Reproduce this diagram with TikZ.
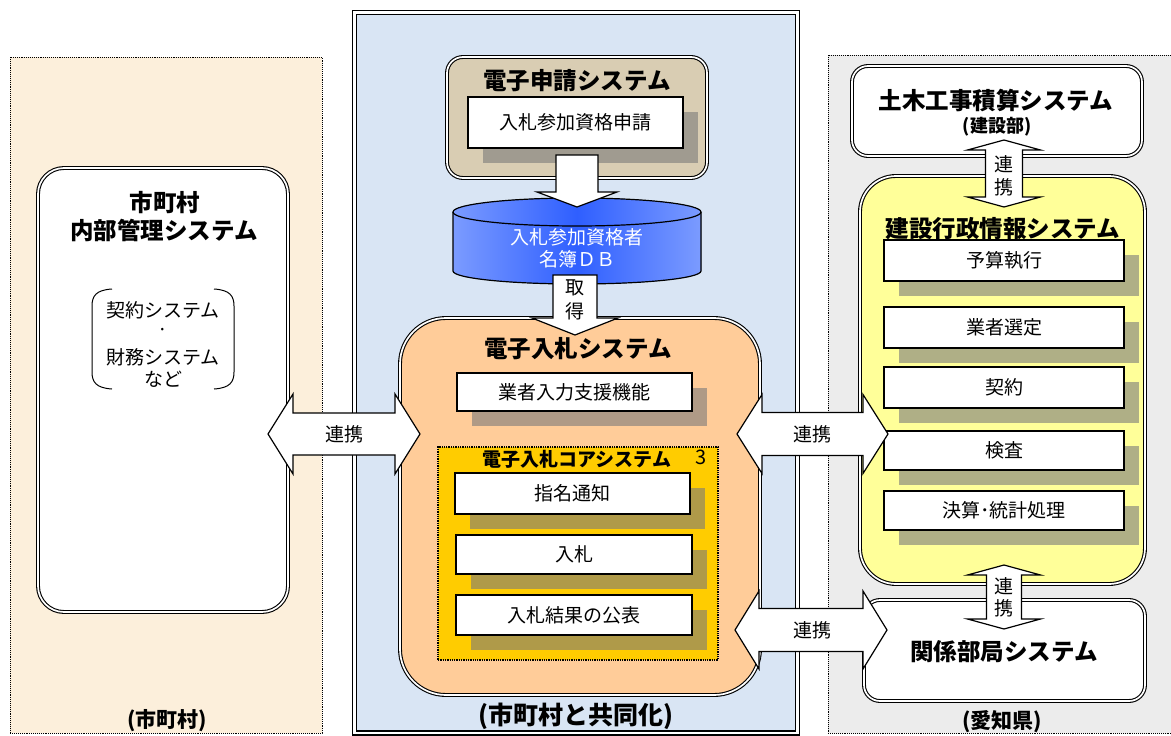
\documentclass[tikz,border=0pt]{standalone}
\usepackage{fontspec}
\setmainfont{Noto Sans CJK JP}
\usetikzlibrary{shadows}
\definecolor{leftbg}{HTML}{FCEFDB}
\definecolor{midbg}{HTML}{D9E5F4}
\definecolor{rightbg}{HTML}{ECECEC}
\definecolor{tan}{HTML}{D9CDB3}
\definecolor{peach}{HTML}{FFCC99}
\definecolor{gold}{HTML}{FFCC00}
\definecolor{lemon}{HTML}{FFFF99}
\definecolor{dbdark}{HTML}{2F5FFF}
\definecolor{dblight}{HTML}{7B9BFF}
\definecolor{shadowgray}{HTML}{7A7A7A}
\newcommand\hdarr[6]{%
 \draw[barrow] (#1,#3) -- ({#1+#6},{#3-#5}) -- ({#1+#6},{#3-#4}) -- ({#2-#6},{#3-#4}) -- ({#2-#6},{#3-#5}) -- (#2,#3) -- ({#2-#6},{#3+#5}) -- ({#2-#6},{#3+#4}) -- ({#1+#6},{#3+#4}) -- ({#1+#6},{#3+#5}) -- cycle;}
\newcommand\vdarr[6]{%
 \draw[barrow] (#1,#2) -- ({#1+#5},{#2+#6}) -- ({#1+#4},{#2+#6}) -- ({#1+#4},{#3-#6}) -- ({#1+#5},{#3-#6}) -- (#1,#3) -- ({#1-#5},{#3-#6}) -- ({#1-#4},{#3-#6}) -- ({#1-#4},{#2+#6}) -- ({#1-#5},{#2+#6}) -- cycle;}
\newcommand\downarr[6]{%
 \draw[barrow] ({#1-#4},#2) -- ({#1+#4},#2) -- ({#1+#4},{#3-#6}) -- ({#1+#5},{#3-#6}) -- (#1,#3) -- ({#1-#5},{#3-#6}) -- ({#1-#4},{#3-#6}) -- cycle;}
\begin{document}
\begin{tikzpicture}[x=1pt,y=-1pt,
  dbl/.style={draw=black, line width=1.1pt, double=white, double distance=1.7pt},
  itembox/.style={draw=black, line width=1.2pt, fill=white, font=\fontsize{19}{22}\selectfont,
     general shadow={fill=shadowgray, opacity=.6, shadow xshift=15pt, shadow yshift=-15pt}},
  tnorm/.style={font=\fontsize{19}{22}\selectfont, inner sep=0pt},
  tbold/.style={font=\fontsize{23.5}{28}\selectfont\bfseries, inner sep=0pt},
  tlab/.style={font=\fontsize{21}{24}\selectfont\bfseries, inner sep=0pt},
  barrow/.style={draw=black, line width=1.2pt, fill=white, line join=miter},
  panel/.style={draw=black, line width=0.9pt, densely dotted}]
\useasboundingbox (0,0) rectangle (1171,736);
\fill[white] (0,0) rectangle (1171,736);
% panels
\draw[panel, fill=leftbg] (10,57) rectangle (322,733);
\draw[panel, fill=rightbg] (828,55) rectangle (1180,733);
\draw[line width=1.5pt, double=white, double distance=2.2pt, fill=midbg] (354.5,12.5) rectangle (797.5,733);
% left system
\node[dbl, fill=white, rounded corners=26pt, minimum width=250pt, minimum height=444pt] (leftsys) at (163,390) {};
\node[tbold] (lt1) at (165,203) {市町村};
\node[tbold] (lt2) at (164,230) {内部管理システム};
\node[tnorm] (lsub1) at (163,310) {契約システム};
\node[tnorm] (lsub2) at (163,332) {·};
\node[tnorm] (lsub3) at (163,357) {財務システム};
\node[tnorm] (lsub4) at (163,379) {など};
\draw[line width=1pt] (112,289) .. controls (96,290) and (92,296) .. (92,306) -- (92,372) .. controls (92,382) and (96,388) .. (112,389);
\draw[line width=1pt] (214,289) .. controls (230,290) and (234,296) .. (234,306) -- (234,372) .. controls (234,382) and (230,388) .. (214,389);
\node[tlab] (lbl1) at (167,721) {(市町村)};
% e-application
\node[dbl, fill=tan, rounded corners=16pt, minimum width=260pt, minimum height=121pt] (shinsei) at (577,117.5) {};
\node[tbold] (shinseit) at (577,81) {電子申請システム};
\node[itembox, minimum width=215pt, minimum height=51pt] (shinseiitem) at (575.5,122.5) {入札参加資格申請};
% database
\fill[left color=dblight, right color=dblight, middle color=dbdark] (453,212) -- (453,271) arc[start angle=180, end angle=0, x radius=124, y radius=13] -- (701,212) arc[start angle=0, end angle=-180, x radius=124, y radius=14] -- cycle;
\draw[line width=1.2pt] (453,212) -- (453,271) arc[start angle=180, end angle=0, x radius=124, y radius=13] -- (701,212);
\draw[line width=1.2pt] (577,212) ellipse[x radius=124, y radius=14];
\node[tnorm, text=white] (db1) at (577,237) {入札参加資格者};
\node[tnorm, text=white] (db2) at (577,259) {名簿ＤＢ};
\downarr{577}{155}{207}{21}{40}{15}
% e-bidding system
\node[dbl, fill=peach, rounded corners=46pt, minimum width=360pt, minimum height=377pt] (nyusatsu) at (580,506.5) {};
\downarr{575}{275}{335}{22}{43}{17}
\node[tnorm] (get1) at (575,288) {取};
\node[tnorm] (get2) at (575,311) {得};
\node[tbold] (nyusatsut) at (578,349) {電子入札システム};
\node[itembox, minimum width=235pt, minimum height=38pt] (gyosha) at (574.5,392) {業者入力支援機能};
\node[draw=black, line width=1.3pt, densely dotted, fill=gold, minimum width=280pt, minimum height=213pt] (core) at (578,553.5) {};
\node[font=\fontsize{19}{22}\selectfont\bfseries, inner sep=0pt] (coret) at (577,459) {電子入札コアシステム};
\node[font=\fontsize{20}{22}\selectfont, inner sep=0pt] (coren) at (701,457) {3};
\node[itembox, minimum width=235pt, minimum height=41pt] (shimei) at (572.5,493.5) {指名通知};
\node[itembox, minimum width=236pt, minimum height=39pt] (nyu) at (574,554.5) {入札};
\node[itembox, minimum width=236pt, minimum height=40pt] (kekka) at (574,615) {入札結果の公表};
\node[font=\fontsize{25}{28}\selectfont\bfseries, inner sep=0pt] (lbl2) at (576,716) {(市町村と共同化)};
% right side
\node[dbl, fill=white, rounded corners=16pt, minimum width=290pt, minimum height=90pt] (doboku) at (997,111) {};
\node[tbold] (dobokut) at (996,101) {土木工事積算システム};
\node[font=\fontsize{18}{20}\selectfont\bfseries, inner sep=0pt] (dobokus) at (997,127) {(建設部)};
\node[dbl, fill=lemon, rounded corners=36pt, minimum width=285pt, minimum height=408pt] (kensetsu) at (1002.5,380) {};
\node[tbold] (kensetsut) at (1003,229) {建設行政情報システム};
\node[itembox, minimum width=240pt, minimum height=41pt] (yosan) at (1004,260.5) {予算執行};
\node[itembox, minimum width=240pt, minimum height=41pt] (sentei) at (1004,327.5) {業者選定};
\node[itembox, minimum width=240pt, minimum height=41pt] (keiyaku) at (1004,387.5) {契約};
\node[itembox, minimum width=240pt, minimum height=39pt] (kensa) at (1004,450.5) {検査};
\node[itembox, minimum width=240pt, minimum height=39pt] (kessan) at (1004,510.5) {決算･統計処理};
\node[dbl, fill=white, rounded corners=16pt, minimum width=281pt, minimum height=101pt] (kankei) at (1004.5,650.5) {};
\node[tbold] (kankeit) at (1004,652) {関係部局システム};
\node[tlab] (lbl3) at (1002,722) {(愛知県)};
% connectors
\hdarr{268}{420}{434}{21}{40}{25}
\node[tnorm] (ren1) at (344,434) {連携};
\hdarr{737}{888}{434}{21.5}{39.5}{25}
\node[tnorm] (ren2) at (812,434) {連携};
\hdarr{735}{887}{630}{21.5}{39}{24}
\node[tnorm] (ren3) at (812,630) {連携};
\vdarr{1004}{140}{207}{18.5}{36.5}{10}
\node[tnorm] (ren4a) at (1004,164) {連};
\node[tnorm] (ren4b) at (1004,187) {携};
\vdarr{1004}{565}{629}{17.5}{36.5}{10}
\node[tnorm] (ren5a) at (1004,586) {連};
\node[tnorm] (ren5b) at (1004,608) {携};
\end{tikzpicture}
\end{document}
